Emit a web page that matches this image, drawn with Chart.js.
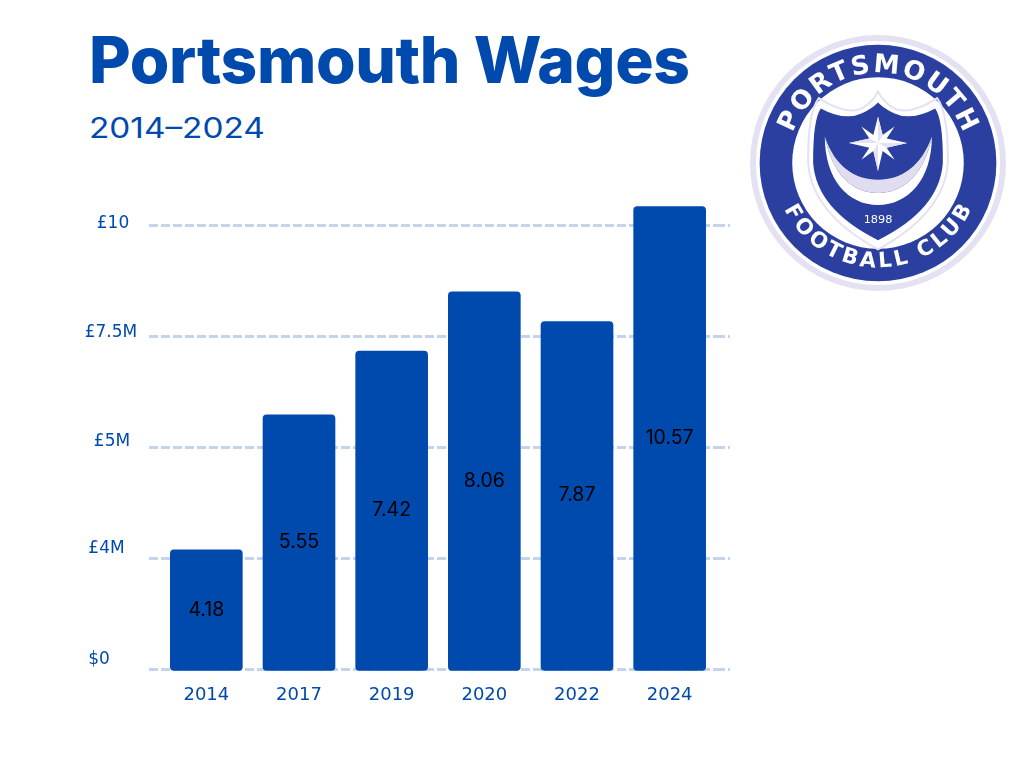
<!DOCTYPE html>
<html lang="en">
<head>
<meta charset="utf-8">
<title>Portsmouth Wages</title>
<script src="https://cdn.jsdelivr.net/npm/chart.js@4"></script>
<style>
  html, body { margin: 0; background: #fff; }
  body { position: relative; width: 1024px; height: 768px; overflow: hidden; }
  canvas { position: absolute; left: 0; top: 0; }
  h1, h2 { position: absolute; margin: 0; color: #004AAD; white-space: nowrap; font-family: Inter, sans-serif; transform-origin: left top; }
  h1 { left: 89px; top: 22px; font-size: 64px; line-height: 76px; font-weight: 800; letter-spacing: -0.35px; }
  h2 { left: 89px; top: 110px; font-size: 28px; line-height: 36px; font-weight: 400; transform: scaleX(1.19); }
  #logo { position: absolute; left: 745px; top: 30px; width: 266px; height: 266px; }
</style>
</head>
<body>
<h1>Portsmouth Wages</h1>
<h2>2014–2024</h2>
<canvas id="chart-wages" width="1024" height="768"></canvas>

<svg id="logo" viewBox="0 0 800 800" xmlns="http://www.w3.org/2000/svg">
  <defs>
    <path id="arc-top" d="M 400 400 m -272 0 a 272 272 0 0 1 544 0"/>
    <path id="arc-bottom" d="M 400 400 m -314 0 a 314 314 0 0 0 628 0"/>
  </defs>
  <circle cx="400" cy="400" r="385" fill="#E4E1F3"/>
  <circle cx="400" cy="400" r="367" fill="#fff"/>
  <circle cx="400" cy="400" r="356" fill="#2A3F9F"/>
  <circle cx="400" cy="400" r="258" fill="#fff"/>
  <text font-family="'DejaVu Sans', sans-serif" font-weight="700" font-size="78" fill="#fff">
    <textPath href="#arc-top" startOffset="50%" text-anchor="middle" textLength="670">PORTSMOUTH</textPath>
  </text>
  <text font-family="'DejaVu Sans', sans-serif" font-weight="700" font-size="64" fill="#fff">
    <textPath href="#arc-bottom" startOffset="50%" text-anchor="middle" textLength="700">FOOTBALL CLUB</textPath>
  </text>
  <!-- escudo -->
  <path d="M 222 205 Q 310 262 358 232 Q 385 215 400 185 Q 415 215 442 232 Q 490 262 578 205 Q 612 250 610 400 Q 600 550 400 660 Q 200 550 190 400 Q 188 250 222 205 Z" fill="none" stroke="#E4E1F3" stroke-width="6"/>
  <path d="M 228 236 Q 300 275 352 250 Q 380 238 400 218 Q 420 238 448 250 Q 500 275 572 236 Q 596 270 595 400 Q 585 540 400 632 Q 215 540 205 400 Q 204 270 228 236 Z" fill="#2A3F9F"/>
  <!-- media luna -->
  <path d="M 240 320 C 240 450 310 526 400 526 C 490 526 562 450 562 320 C 540 430 480 490 400 490 C 320 490 262 430 240 320 Z" fill="#fff"/>
  <path d="M 240 320 C 262 430 320 490 400 490 C 480 490 540 430 562 320 C 530 410 470 450 400 450 C 330 450 270 410 240 320 Z" fill="#E0DDF0"/>
  <!-- estrella -->
  <polygon points="400,260 414,316 450,290 426,326 488,340 426,354 450,390 414,364 400,425 386,364 350,390 374,354 312,340 374,326 350,290 386,316" fill="#fff"/>
  <polygon points="400,340 414,316 400,260" fill="#E4E1F3"/>
  <polygon points="400,340 426,354 488,340" fill="#E4E1F3"/>
  <polygon points="400,340 386,364 400,425" fill="#E4E1F3"/>
  <polygon points="400,340 374,326 312,340" fill="#E4E1F3"/>
  <text x="400" y="580" text-anchor="middle" font-family="'DejaVu Sans', sans-serif" font-size="34" fill="#fff">1898</text>
</svg>

<script>
// Datos
const categories  = ["2014", "2017", "2019", "2020", "2022", "2024"];
// altura de cada barra contra las lineas de la grilla (no coincide con su etiqueta)
const barValues   = [2.70, 5.74, 7.18, 8.51, 7.84, 10.43];
const valueLabels = ["4.18", "5.55", "7.42", "8.06", "7.87", "10.57"];
const yTickValues = [0, 2.5, 5, 7.5, 10];
const yTickLabels = ["$0", "£4M", "£5M", "£7.5M", "£10"];

const C_BLUE = "#004AAD";
const C_GRID = "#C3D4EC";

// Las etiquetas del eje Y no estan alineadas entre si en el original
const Y_LABEL_X  = [99, 106.5, 112, 111, 113];
const Y_LABEL_DY = [-10, -9.5, -5.5, -3.5, -1.5];

const nudgeYLabels = {
  id: "nudgeYLabels",
  beforeDraw(chart) {
    const scale = chart.scales.y;
    scale.getLabelItems().forEach((item, i) => {
      if (item.nudged) return;
      item.nudged = true;
      item.options.textAlign = "center";
      item.options.translation = [Y_LABEL_X[i], scale.getPixelForValue(yTickValues[i]) + Y_LABEL_DY[i]];
    });
  },
};

// Etiqueta negra en el centro de cada barra
const barLabels = {
  id: "barLabels",
  afterDatasetsDraw(chart) {
    const ctx = chart.ctx;
    ctx.save();
    ctx.fillStyle = "#000";
    ctx.font = "19.5px Inter, sans-serif";
    ctx.textAlign = "center";
    ctx.textBaseline = "middle";
    chart.getDatasetMeta(0).data.forEach((bar, i) => {
      ctx.fillText(valueLabels[i], bar.x, (bar.y + bar.base) / 2 - 0.5);
    });
    ctx.restore();
  },
};

const gridBase = { color: C_GRID, lineWidth: 3, tickColor: C_GRID, tickWidth: 3, tickBorderDash: [9, 3] };

new Chart(document.getElementById("chart-wages"), {
  type: "bar",
  data: {
    labels: categories,
    datasets: [{
      data: barValues,
      base: -0.03,
      clip: false,
      backgroundColor: C_BLUE,
      borderRadius: 4,
      borderSkipped: false,
      categoryPercentage: 1,
      barPercentage: 0.784,
    }],
  },
  plugins: [nudgeYLabels, barLabels],
  options: {
    responsive: false,
    animation: false,
    layout: { padding: { top: 181, right: 294, bottom: 0, left: 0 } },
    plugins: { legend: { display: false }, tooltip: { enabled: false } },
    scales: {
      x: {
        grid: { display: false },
        border: { display: false },
        ticks: { color: C_BLUE, font: { family: "'DejaVu Sans', sans-serif", size: 18 }, padding: 7, maxRotation: 0 },
        afterFit: s => { s.height = 98.5; },
      },
      y: {
        min: 0,
        max: 11,
        grid: { ...gridBase, tickLength: 11 },
        border: { display: false, dash: [9, 3], dashOffset: 11 },
        afterBuildTicks: s => { s.ticks = yTickValues.map(value => ({ value })); },
        ticks: {
          color: C_BLUE,
          font: { family: "'DejaVu Sans', sans-serif", size: 17 },
          callback: (v, i) => yTickLabels[i],
        },
        afterFit: s => { s.width = 160; },
      },
      // solo para prolongar la grilla a la derecha de las barras
      yRight: {
        position: "right",
        min: 0,
        max: 11,
        grid: { ...gridBase, tickLength: 14, drawOnChartArea: false },
        border: { display: false },
        afterBuildTicks: s => { s.ticks = yTickValues.map(value => ({ value })); },
        ticks: { callback: () => "", padding: 0 },
        afterFit: s => { s.width = 14; },
      },
    },
  },
});
</script>
</body>
</html>
